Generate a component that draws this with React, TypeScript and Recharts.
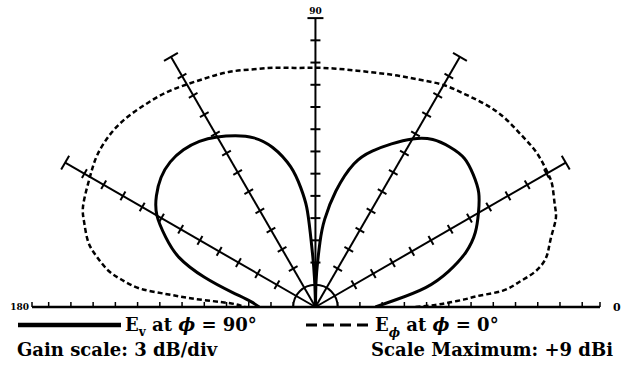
import React from "react";
import { ScatterChart, Scatter, XAxis, YAxis, ReferenceLine, ReferenceDot } from "recharts";

// Elevation pattern, gain in dBi at each elevation angle (deg)
const evAngles = [0, 5, 10, 15, 20, 25, 30, 35, 40, 45, 50, 55, 60, 65, 70, 75, 80, 84, 86, 88, 89, 90,
  91, 92, 93, 94, 95, 97, 100, 105, 110, 115, 120, 125, 130, 135, 140, 145, 150, 155, 160, 165, 170, 175, 180];
const evGain = [-21.9, -19.2, -14.9, -11.4, -8.4, -6.2, -4.6, -3.1, -2.2, -1.6, -1.8, -2.4, -3.8, -5.7, -7.6, -10.0, -14.1, -18.1, -21.2, -25.3, -28.0, -30.0,
  -28.4, -25.9, -23.2, -19.9, -16.5, -13.8, -10.8, -7.7, -5.7, -4.5, -3.5, -2.7, -2.3, -2.3, -2.8, -3.8, -5.3, -7.7, -10.4, -14.5, -18.6, -21.2, -22.4];

const ephiAngles = [0, 1, 2, 3, 4, 5, 7, 9, 12, 16, 20, 23, 27, 30, 35, 40, 45, 50, 55, 60, 65, 70, 75, 80, 85, 90,
  95, 100, 105, 110, 115, 120, 125, 130, 135, 140, 145, 149, 153, 157, 160, 164, 167, 170, 172, 174, 175, 176, 177, 178, 180];
const ephiGain = [-16.5, -13.8, -11.8, -9.7, -7.7, -4.6, -2.3, -0.1, 1.8, 3.0, 4.5, 5.1, 5.9, 6.2, 6.4, 6.2, 6.1, 5.7, 5.1, 4.6, 3.8, 3.2, 2.7, 2.4, 2.3, 2.3,
  2.4, 2.8, 3.2, 3.8, 4.2, 4.7, 5.3, 5.7, 6.1, 6.2, 5.9, 5.3, 4.7, 4.1, 3.2, 1.9, 0.3, -1.6, -3.6, -6.2, -9.7, -13.1, -17.2, -19.2, -20.5];

// grid: 3 dB per division, 13 divisions, outer ring at +9 dBi
const DB_PER_DIV = 3;
const DIVS = 13;
const MAX_DB = 9;
const MIN_DB = MAX_DB - DB_PER_DIV * DIVS;
const spokeAngles = [30, 60, 90, 120, 150];
const spokeTickDivs = [2, 3, 4, 5, 6, 7, 8, 9, 10, 11, 12];
const baseTicks = [-12.75, -12, -11, -10, -9, -8, -7, -6, -5, -4, -3, -2, -1, 0, 1, 2, 3, 4, 5, 6, 7, 8, 9, 10, 11, 12, 12.8];
const angleLabels = ["180", "90", "0"];

const W = 625;
const H = 378;
// mirrored x axis takes no room, so the plot bottom sits at H - bottom
const M = { top: 7, right: 25, bottom: 71, left: 32 };
const X_DOMAIN: [number, number] = [-12.75, 12.8];
const Y_DOMAIN: [number, number] = [0, 13.5];
const PX_PER_DIV = (W - M.left - M.right) / (X_DOMAIN[1] - X_DOMAIN[0]);

const rad = (d: number) => (d * Math.PI) / 180;
const polar = (deg: number, r: number) => ({ x: r * Math.cos(rad(deg)), y: r * Math.sin(rad(deg)), ang: deg });
const toDiv = (db: number) => (db - MIN_DB) / DB_PER_DIV;

const evData = evAngles.map((a, i) => polar(a, toDiv(evGain[i])));
const ephiData = ephiAngles.map((a, i) => polar(a, toDiv(ephiGain[i])));
const capData = spokeAngles.map((a) => polar(a, DIVS));
const tickData = spokeAngles.flatMap((a) => spokeTickDivs.map((k) => polar(a, k)));

const crossTick = (half: number) => (props: any) => {
  const { cx, cy } = props;
  const a = rad(props.payload?.ang ?? props.ang ?? 0);
  const dx = half * Math.sin(a);
  const dy = half * Math.cos(a);
  return <line x1={cx - dx} y1={cy - dy} x2={cx + dx} y2={cy + dy} stroke="#000" strokeWidth={2} />;
};

const noDot = () => <g />;

const innerRing = (props: any) => {
  const { cx, cy } = props;
  const r = PX_PER_DIV;
  return <path d={`M ${cx - r} ${cy} A ${r} ${r} 0 0 1 ${cx + r} ${cy}`} fill="none" stroke="#000" strokeWidth={2} />;
};

const serif = "'DejaVu Serif', serif";

const App = () => {
  return (
    <div style={{ position: "absolute", left: 0, top: 0, width: W, height: H, background: "#fff" }}>
      <ScatterChart width={W} height={H} margin={M}>
        <XAxis
          type="number"
          dataKey="x"
          domain={X_DOMAIN}
          allowDataOverflow
          ticks={baseTicks}
          interval={0}
          mirror
          height={20}
          tickSize={5}
          tick={noDot}
          axisLine={{ stroke: "#000", strokeWidth: 2.5 }}
          tickLine={{ stroke: "#000", strokeWidth: 1.5 }}
        />
        <YAxis type="number" dataKey="y" domain={Y_DOMAIN} allowDataOverflow hide />
        {capData.map((end) => (
          <ReferenceLine
            key={end.ang}
            segment={[{ x: 0, y: 0 }, { x: end.x, y: end.y }]}
            stroke="#000"
            strokeWidth={2}
            ifOverflow="visible"
          />
        ))}
        <ReferenceDot x={0} y={0} r={0} shape={innerRing} ifOverflow="visible" />
        <Scatter data={tickData} shape={crossTick(5)} isAnimationActive={false} />
        <Scatter data={capData} shape={crossTick(8)} isAnimationActive={false} />
        <Scatter
          data={ephiData}
          shape={noDot}
          line={{ stroke: "#000", strokeWidth: 2.5, strokeDasharray: "5 3" }}
          lineType="joint"
          lineJointType="natural"
          isAnimationActive={false}
        />
        <Scatter
          data={evData}
          shape={noDot}
          line={{ stroke: "#000", strokeWidth: 3 }}
          lineType="joint"
          lineJointType="natural"
          isAnimationActive={false}
        />
        <ReferenceDot x={X_DOMAIN[0]} y={0} r={0} ifOverflow="visible"
          label={{ value: angleLabels[0], position: "left", offset: 3, fontSize: 9, fontWeight: 700, fill: "#000", fontFamily: serif }} />
        <ReferenceDot x={0} y={DIVS} r={0} ifOverflow="visible"
          label={{ value: angleLabels[1], position: "top", offset: 4, fontSize: 9, fontWeight: 700, fill: "#000", fontFamily: serif }} />
        <ReferenceDot x={X_DOMAIN[1]} y={0} r={0} ifOverflow="visible"
          label={{ value: angleLabels[2], position: "right", offset: 13, fontSize: 11, fontWeight: 700, fill: "#000", fontFamily: serif }} />
      </ScatterChart>

      <svg width={W} height={H} style={{ position: "absolute", left: 0, top: 0, pointerEvents: "none" }}>
        <g fontFamily={serif} fontWeight={700} fill="#000">
          <line x1={18} y1={325} x2={121} y2={325} stroke="#000" strokeWidth={4.5} />
          <text x={125} y={331} fontSize={18}>
            E<tspan dy={5} fontSize={12}>v</tspan>
            <tspan dy={-5}> at </tspan>
            <tspan fontStyle="italic">ϕ</tspan>
            <tspan> = 90°</tspan>
          </text>
          <line x1={306} y1={325} x2={373} y2={325} stroke="#000" strokeWidth={3} strokeDasharray="11 6" />
          <text x={375} y={331} fontSize={18}>
            E<tspan dy={6} fontSize={12} fontStyle="italic">ϕ</tspan>
            <tspan dy={-6}> at </tspan>
            <tspan fontStyle="italic">ϕ</tspan>
            <tspan> = 0°</tspan>
          </text>
          <text x={17} y={356} fontSize={18}>Gain scale: 3 dB/div</text>
          <text x={613} y={356} fontSize={18} textAnchor="end">Scale Maximum: +9 dBi</text>
        </g>
      </svg>
    </div>
  );
};

export default App;
